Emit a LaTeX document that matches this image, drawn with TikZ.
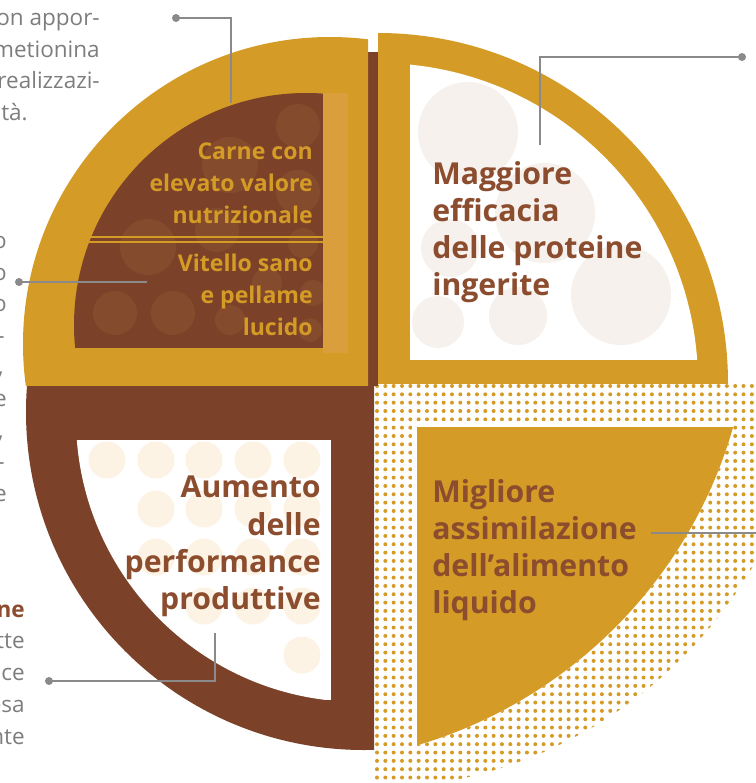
\documentclass[tikz,border=0pt]{standalone}
\usepackage{fontspec}
\setmainfont{Open Sans}
\definecolor{ochre}{RGB}{212,155,38}
\definecolor{rust}{RGB}{123,66,41}
\definecolor{rustlight}{RGB}{133,75,45}
\definecolor{stripe}{RGB}{218,158,60}
\definecolor{blush}{RGB}{246,241,236}
\definecolor{cream}{RGB}{253,243,228}
\definecolor{txtbrown}{RGB}{140,76,46}
\definecolor{txtgray}{RGB}{125,125,125}
\definecolor{leadgray}{RGB}{138,138,138}

\begin{document}
\begin{tikzpicture}[x=0.025cm,y=-0.025cm,
    bigtxt/.style={font=\bfseries\fontsize{21.5}{26.4}\selectfont,text=txtbrown,inner sep=0pt},
    smalltxt/.style={font=\bfseries\fontsize{16.4}{22.5}\selectfont,text=ochre,inner sep=0pt,align=right},
    sidetxt/.style={font=\fontsize{16}{22.5}\selectfont,text=txtgray,inner sep=0pt},
    leader/.style={draw=leadgray,line width=1.4pt}]
    \useasboundingbox (0,0) rectangle (756,783);
    % pin at the free end of a leader
    \def\pin{circle(4)}
    % dotted ground of the fourth quarter
    \begin{scope}
        \clip (374,383) rectangle (760,790);
        \clip (365,340) circle (449);
        \foreach \i in {0,...,46}{
            \foreach \j in {0,...,48}{
                \fill[ochre] (377+8.33*\i,386+8.33*\j) circle (2);
            }
        }
    \end{scope}
    \begin{scope}
        \clip (412,421) rectangle (760,790);
        \fill[white] (286,299) circle (465);
    \end{scope}
    \begin{scope}
        \clip (417,427) rectangle (760,790);
        \fill[ochre] (286,299) circle (465);
    \end{scope}
    % brown quarter and the strip behind the top
    \begin{scope}
        \clip (0,383) rectangle (374,790);
        \fill[rust] (364,412) circle (338);
    \end{scope}
    \fill[rust] (368,52) rectangle (378,386);
    % top left quarter
    \begin{scope}
        \clip (0,0) rectangle (368,385);
        \fill[ochre] (330,344) circle (307);
    \end{scope}
    \begin{scope}
        \clip (0,0) rectangle (323,348);
        \clip (306,325) circle (232);
        \fill[rust] (0,0) rectangle (323,348);
        \foreach \cx/\cy/\r in {298/126/22, 230/165/28, 298/192/22, 148/247/28, 217/230/22, 115/313/22,
                173/313/22, 230/320/15, 303/243/15, 313/293/13, 310/330/12, 267/283/15}{
            \fill[rustlight] (\cx,\cy) circle (\r);
        }
    \end{scope}
    \fill[stripe] (323,93) rectangle (348,353);
    \draw[ochre,line width=1.1pt] (83,237) -- (323,237) (83,242) -- (323,242);
    % top right quarter
    \begin{scope}
        \clip (378,0) rectangle (760,383);
        \fill[ochre] (378,383) circle (350);
        \clip (410,0) rectangle (760,360);
        \clip (378,383) circle (320);
        \fill[white] (410,0) rectangle (760,360);
        \foreach \cx/\cy/\r in {468/132/50, 545/213/50, 450/248/29, 438/322/26, 518/316/29, 621/295/50}{
            \fill[blush] (\cx,\cy) circle (\r);
        }
    \end{scope}
    % bottom left window
    \begin{scope}
        \clip (0,440) rectangle (331,700);
        \clip (360,418) circle (284);
        \fill[white] (0,440) rectangle (331,700);
        \foreach \cx/\cy in {107/460, 156/460, 204/460, 253/460, 302/460, 156/509, 204/509, 253/509, 302/509,
                156/557, 204/557, 253/557, 302/557, 204/606, 253/606, 302/606, 302/655}{
            \fill[cream] (\cx,\cy) circle (18.5);
        }
    \end{scope}
    % labels
    \node[smalltxt,anchor=north east] (carne) at (313,143) {Carne con\\elevato valore\\nutrizionale};
    \node[smalltxt,anchor=north east] (vitello) at (313,254) {Vitello sano\\e pellame\\lucido};
    \node[bigtxt,align=left,anchor=north west] (maggiore) at (432,161) {Maggiore\\efficacia\\delle proteine\\ingerite};
    \node[bigtxt,align=right,anchor=north east] (aumento) at (321,476) {Aumento\\delle\\performance\\produttive};
    \node[bigtxt,align=left,anchor=north west] (migliore) at (432,479) {Migliore\\assimilazione\\dell’alimento\\liquido};
    % cut off text of the page
    \foreach \t/\xx/\yy [count=\k] in {on appor-/100/25, metionina/100/57, realizzazi-/100/88, ità./28/120,
            o/7/248, o/7/280, o/7/311, -/5/343, {,}/4/374, e/7/406, {,}/4/438, -/5/469, e/7/501,
            tte/25/648, ce/25/680, esa/25/712, nte/25/744}{
        \node[sidetxt,anchor=base east] (side\k) at (\xx,\yy) {\t};
    }
    \node[sidetxt,font=\bfseries\fontsize{16}{22.5}\selectfont,text=txtbrown,anchor=base east] (sidebold) at (25,617) {ne};
    % leaders
    \coordinate (p1) at (176,18);  \coordinate (t1) at (231,103);
    \coordinate (p2) at (19,282);  \coordinate (t2) at (147,282);
    \coordinate (p3) at (742,57);  \coordinate (t3) at (540,145);
    \coordinate (p4) at (762,533); \coordinate (t4) at (651,533);
    \coordinate (p5) at (49,681);  \coordinate (t5) at (215,633);
    \draw[leader] (p1) -| (t1) (p2) -- (t2) (p3) -| (t3) (p4) -- (t4) (p5) -| (t5);
    \foreach \i in {1,...,5}{
        \fill[leadgray] (p\i) \pin;
    }
\end{tikzpicture}
\end{document}
